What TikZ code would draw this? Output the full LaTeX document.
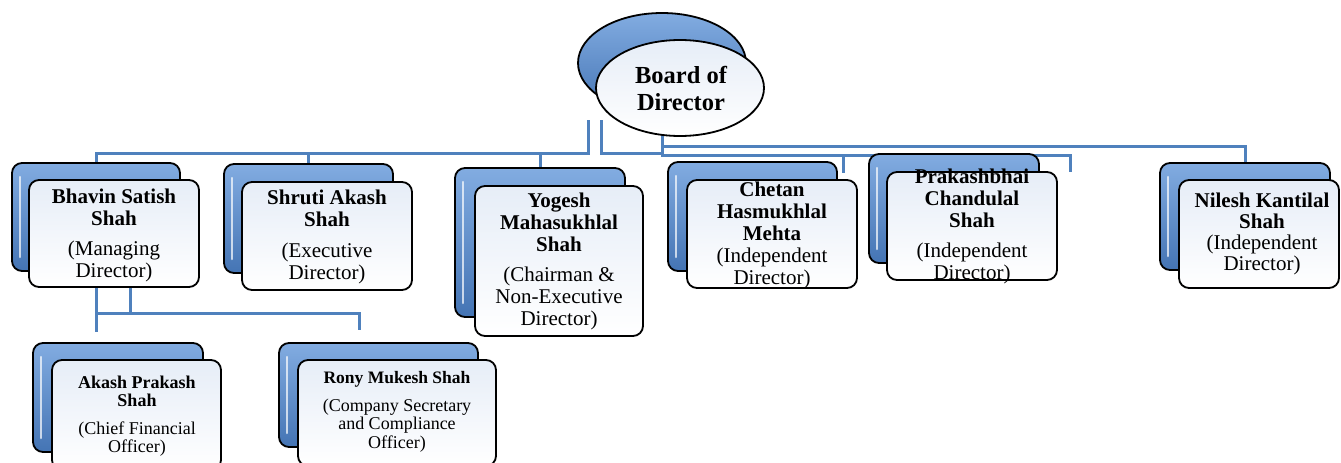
\documentclass[tikz,border=0pt]{standalone}
\usepackage{fontspec}
\setmainfont{Liberation Serif}
\usepackage{tikz}
\usetikzlibrary{shapes.geometric, backgrounds}

\definecolor{linkblue}{RGB}{79,129,189}
\definecolor{backtop}{RGB}{130,172,225}
\definecolor{backbot}{RGB}{68,116,180}
\definecolor{paletop}{RGB}{230,237,247}

\begin{document}
\begin{tikzpicture}[x=1pt, y=-1pt,
    backbox/.style={draw=black, line width=1.8pt, rounded corners=10pt, inner sep=0pt,
      top color=backtop, bottom color=backbot,
      path picture={\draw[white, opacity=.7, line width=2.5pt, line cap=round]
        ([xshift=8pt,yshift=-14pt]path picture bounding box.north west) --
        ([xshift=8pt,yshift=14pt]path picture bounding box.south west);}},
    frontbox/.style={draw=black, line width=1.8pt, rounded corners=10pt, inner sep=0pt,
      top color=paletop, bottom color=white},
    backoval/.style={ellipse, draw=black, line width=1.8pt, inner sep=0pt,
      top color=backtop, bottom color=backbot},
    frontoval/.style={ellipse, draw=black, line width=1.8pt, inner sep=0pt,
      top color=paletop, bottom color=white},
    txt/.style={align=center, inner sep=0pt, font=\fontsize{21}{22}\selectfont},
    small/.style={align=center, inner sep=0pt, font=\fontsize{18}{18.5}\selectfont},
    link/.style={draw=linkblue, line width=3pt}]
  \useasboundingbox (0,0) rectangle (1341,463);

  % board
  \node (boardB) at (662,63) [backoval, minimum width=168pt, minimum height=100pt] {};
  \node (board) at (680,88) [frontoval, minimum width=168pt, minimum height=96pt] {};
  \node (boardT) at (681,88) [align=center, inner sep=0pt, font=\fontsize{24.5}{27}\selectfont\bfseries] {Board of\\Director};

  % directors
  \node (bhavinB) at (96,217) [backbox, minimum width=168pt, minimum height=108pt] {};
  \node (bhavin) at (114,233.5) [frontbox, minimum width=170pt, minimum height=107pt] {};
  \node (bhavinT) at (114,235) [txt] {\textbf{Bhavin Satish}\\\textbf{Shah}\\[8pt](Managing\\Director)};

  \node (shrutiB) at (308.5,218.5) [backbox, minimum width=169pt, minimum height=109pt] {};
  \node (shruti) at (327,236) [frontbox, minimum width=170pt, minimum height=108pt] {};
  \node (shrutiT) at (327,237) [txt] {\textbf{Shruti Akash}\\\textbf{Shah}\\[9pt](Executive\\Director)};

  \node (yogeshB) at (540,242.5) [backbox, minimum width=170pt, minimum height=149pt] {};
  \node (yogesh) at (559,261) [frontbox, minimum width=168pt, minimum height=150pt] {};
  \node (yogeshT) at (559,261) [txt] {\textbf{Yogesh}\\\textbf{Mahasukhlal}\\\textbf{Shah}\\[8pt](Chairman \&\\Non-Executive\\Director)};

  \node (chetanB) at (752.5,216.5) [backbox, minimum width=169pt, minimum height=109pt] {};
  \node (chetan) at (772,234) [frontbox, minimum width=170pt, minimum height=108pt] {};
  \node (chetanT) at (772,235) [txt] {\textbf{Chetan}\\\textbf{Hasmukhlal}\\\textbf{Mehta}\\(Independent\\Director)};

  \node (prakashB) at (954,208.5) [backbox, minimum width=170pt, minimum height=109pt] {};
  \node (prakash) at (972,226) [frontbox, minimum width=170pt, minimum height=108pt] {};
  \node (prakashT) at (972,226) [txt] {\textbf{Prakashbhai}\\\textbf{Chandulal}\\\textbf{Shah}\\[8pt](Independent\\Director)};

  \node (nileshB) at (1245,216.5) [backbox, minimum width=170pt, minimum height=107pt] {};
  \node (nilesh) at (1259,234) [frontbox, minimum width=160pt, minimum height=108pt] {};
  \node (nileshT) at (1262,234) [txt, font=\fontsize{21}{21}\selectfont] {\textbf{Nilesh Kantilal}\\\textbf{Shah}\\(Independent\\Director)};

  % officers
  \node (akashB) at (118,397.5) [backbox, minimum width=170pt, minimum height=109pt] {};
  \node (akash) at (136.5,415) [frontbox, minimum width=169pt, minimum height=110pt] {};
  \node (akashT) at (137,416) [small] {\textbf{Akash Prakash}\\\textbf{Shah}\\[9pt](Chief Financial\\Officer)};

  \node (ronyB) at (378.5,395) [backbox, minimum width=199pt, minimum height=104pt] {};
  \node (rony) at (397,413) [frontbox, minimum width=198pt, minimum height=106pt] {};
  \node (ronyT) at (397,412) [small] {{\fontsize{17.5}{18}\selectfont\textbf{Rony Mukesh Shah}}\\[9pt](Company Secretary\\and Compliance\\Officer)};

  % connectors
  \coordinate (jL) at (588,120);
  \coordinate (jR) at (601,120);
  \coordinate (busL) at (588,153);
  \coordinate (busC) at (662,153);
  \coordinate (busR) at (662,155);
  \coordinate (busT) at (662,146);
  \coordinate (chetanD) at (843,173);
  \coordinate (prakashD) at (1070,172);
  \coordinate (bhavinD) at (130,271);
  \coordinate (busD) at (96,313);
  \coordinate (akashD) at (96,332);
  \coordinate (ronyD) at (359,330);
  \begin{scope}[on background layer]
    \draw[link] (jL) -- (busL) -| (bhavinB.north);
    \draw[link] (busL) -| (shrutiB.north);
    \draw[link] (busL) -| (yogeshB.north);
    \draw[link] (jR) |- (busC);
    \draw[link] (boardB.south) -- (busR) -| (prakashD);
    \draw[link] (busR) -| (chetanD);
    \draw[link] (busT) -| (nileshB.north);
    \draw[link] (bhavinB.south) -- (akashD);
    \draw[link] (bhavinD) |- (busD);
    \draw[link] (busD) -| (ronyD);
  \end{scope}
\end{tikzpicture}
\end{document}
